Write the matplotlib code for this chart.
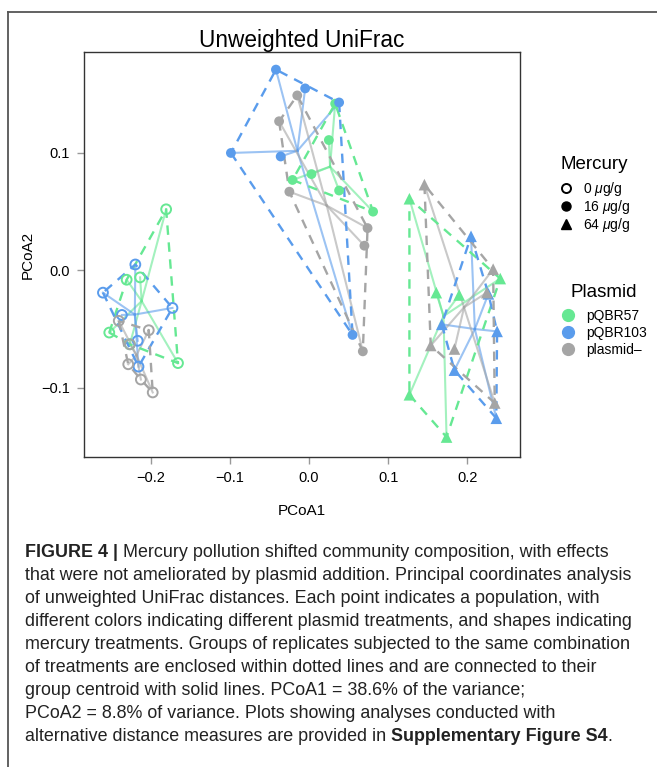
import matplotlib
matplotlib.use('Agg')
import matplotlib.pyplot as plt
from matplotlib.lines import Line2D
import numpy as np

plt.rcParams['font.family'] = ['Liberation Sans', 'DejaVu Sans']
plt.rcParams['mathtext.fontset'] = 'custom'
plt.rcParams['mathtext.it'] = 'Liberation Sans:italic'
plt.rcParams['mathtext.rm'] = 'Liberation Sans'

# PCoA coordinates, one list per plasmid x mercury group
plasmids = ['pQBR57', 'pQBR103', 'plasmid\u2013']
mercury = ['0 $\\mu$g/g', '16 $\\mu$g/g', '64 $\\mu$g/g']
colors = {'pQBR57': '#66E893', 'pQBR103': '#5A9CEC', 'plasmid\u2013': '#A5A5A5'}

hg0_pqbr57_x = [-0.181, -0.231, -0.214, -0.253, -0.227, -0.166]
hg0_pqbr57_y = [0.052, -0.008, -0.006, -0.053, -0.063, -0.079]
hg0_pqbr103_x = [-0.220, -0.261, -0.173, -0.237, -0.217, -0.216]
hg0_pqbr103_y = [0.005, -0.019, -0.032, -0.038, -0.060, -0.082]
hg0_minus_x = [-0.241, -0.203, -0.229, -0.213, -0.198, -0.227]
hg0_minus_y = [-0.043, -0.051, -0.080, -0.093, -0.104, -0.063]

hg16_pqbr57_x = [0.033, 0.025, 0.003, -0.021, 0.038, 0.081]
hg16_pqbr57_y = [0.142, 0.111, 0.082, 0.077, 0.068, 0.050]
hg16_pqbr103_x = [-0.042, -0.005, 0.038, -0.099, -0.036, 0.055]
hg16_pqbr103_y = [0.171, 0.155, 0.143, 0.100, 0.097, -0.055]
hg16_minus_x = [-0.015, -0.038, -0.025, 0.074, 0.070, 0.068]
hg16_minus_y = [0.149, 0.127, 0.067, 0.036, 0.021, -0.069]

hg64_pqbr57_x = [0.127, 0.161, 0.190, 0.242, 0.127, 0.174]
hg64_pqbr57_y = [0.061, -0.019, -0.021, -0.007, -0.106, -0.142]
hg64_pqbr103_x = [0.205, 0.227, 0.168, 0.238, 0.184, 0.237]
hg64_pqbr103_y = [0.029, -0.020, -0.046, -0.052, -0.085, -0.126]
hg64_minus_x = [0.146, 0.233, 0.154, 0.184, 0.235, 0.225]
hg64_minus_y = [0.073, 0.001, -0.064, -0.067, -0.113, -0.019]

groups = [
    ('pQBR57', 0, hg0_pqbr57_x, hg0_pqbr57_y),
    ('pQBR103', 0, hg0_pqbr103_x, hg0_pqbr103_y),
    ('plasmid\u2013', 0, hg0_minus_x, hg0_minus_y),
    ('pQBR57', 1, hg16_pqbr57_x, hg16_pqbr57_y),
    ('pQBR103', 1, hg16_pqbr103_x, hg16_pqbr103_y),
    ('plasmid\u2013', 1, hg16_minus_x, hg16_minus_y),
    ('pQBR57', 2, hg64_pqbr57_x, hg64_pqbr57_y),
    ('pQBR103', 2, hg64_pqbr103_x, hg64_pqbr103_y),
    ('plasmid\u2013', 2, hg64_minus_x, hg64_minus_y),
]


def hull(x, y):
    pts = sorted(zip(x, y))
    def cross(o, a, b):
        return (a[0]-o[0])*(b[1]-o[1]) - (a[1]-o[1])*(b[0]-o[0])
    lower, upper = [], []
    for p in pts:
        while len(lower) >= 2 and cross(lower[-2], lower[-1], p) <= 0:
            lower.pop()
        lower.append(p)
    for p in reversed(pts):
        while len(upper) >= 2 and cross(upper[-2], upper[-1], p) <= 0:
            upper.pop()
        upper.append(p)
    h = lower[:-1] + upper[:-1]
    h.append(h[0])
    return [p[0] for p in h], [p[1] for p in h]


fig = plt.figure(figsize=(6.57, 7.67), dpi=100)
ax = fig.add_axes([84/657, 1-457/767, (520-84)/657, (457-52)/767])

for plas, hg, xs, ys in groups:
    c = colors[plas]
    hx, hy = hull(xs, ys)
    ax.plot(hx, hy, color=c, lw=1.7, linestyle=(0, (4, 3.2)), zorder=2)
    cx, cy = np.mean(xs), np.mean(ys)
    for x, y in zip(xs, ys):
        ax.plot([cx, x], [cy, y], color=c, lw=1.5, alpha=0.6, zorder=1)
    if hg == 0:
        ax.scatter(xs, ys, s=50, facecolors='none', edgecolors=c, linewidths=1.4, zorder=3)
    elif hg == 1:
        ax.scatter(xs, ys, s=50, color=c, edgecolors='none', zorder=3)
    else:
        ax.scatter(xs, ys, s=70, marker='^', color=c, edgecolors='none', zorder=3)

ax.set_xlim(-0.285, 0.267)
ax.set_ylim(-0.159, 0.186)
ax.set_xticks([-0.2, -0.1, 0.0, 0.1, 0.2])
ax.set_yticks([-0.1, 0.0, 0.1])
ax.set_xticklabels(['\u22120.2', '\u22120.1', '0.0', '0.1', '0.2'])
ax.set_yticklabels(['\u22120.1', '0.0', '0.1'])
ax.tick_params(direction='out', length=5, width=1, color='#999999', labelsize=10.5, pad=5)
for s in ax.spines.values():
    s.set_color('#333333')
    s.set_linewidth(1)
ax.set_xlabel('PCoA1', fontsize=11, labelpad=14)
ax.set_ylabel('PCoA2', fontsize=11, labelpad=5)

fig.text(302/657, 1-40/767, 'Unweighted UniFrac', fontsize=16.3, ha='center', va='center')

# legends
hg_handles = [
    Line2D([], [], marker='o', ls='none', mfc='none', mec='black', mew=1.4, ms=6.5),
    Line2D([], [], marker='o', ls='none', color='black', ms=6.5),
    Line2D([], [], marker='^', ls='none', color='black', ms=7.5),
]
leg1 = fig.legend(hg_handles, mercury, loc='upper left', bbox_to_anchor=(559/657, 1-156/767),
                  frameon=False, title='Mercury', title_fontsize=13.5, fontsize=10,
                  handlelength=1, handletextpad=0.7, labelspacing=0.0, borderpad=0, borderaxespad=0)
leg1._legend_box.sep = 5
pl_handles = [Line2D([], [], marker='o', ls='none', color=colors[p], ms=8.5) for p in plasmids]
leg2 = fig.legend(pl_handles, plasmids, loc='upper left', bbox_to_anchor=(561/657, 1-284/767),
                  frameon=False, title='Plasmid', title_fontsize=13.5, fontsize=10,
                  handlelength=1, handletextpad=0.8, labelspacing=0.2, borderpad=0, borderaxespad=0)
leg2._legend_box.sep = 6

# outer frame
fig.add_artist(Line2D([8/657, 8/657], [0, 1-12/767], transform=fig.transFigure, color='#555555', lw=1.3))
fig.add_artist(Line2D([8/657, 1], [1-12/767, 1-12/767], transform=fig.transFigure, color='#555555', lw=1.3))

# caption
cap_lines = [
    'that were not ameliorated by plasmid addition. Principal coordinates analysis',
    'of unweighted UniFrac distances. Each point indicates a population, with',
    'different colors indicating different plasmid treatments, and shapes indicating',
    'mercury treatments. Groups of replicates subjected to the same combination',
    'of treatments are enclosed within dotted lines and are connected to their',
    'group centroid with solid lines. PCoA1 = 38.6% of the variance;',
    'PCoA2 = 8.8% of variance. Plots showing analyses conducted with',
]
cap_fs = 12.9
x0 = 25/657
base = 557
step = 23
t = fig.text(x0, 1-base/767, 'FIGURE 4 | ', fontsize=cap_fs, fontweight='bold', va='baseline', color='#222222')
plt.annotate('Mercury pollution shifted community composition, with effects', xy=(1, 0), xycoords=t,
             fontsize=cap_fs, va='bottom', ha='left', color='#222222', annotation_clip=False)
for i, line in enumerate(cap_lines):
    fig.text(x0, 1-(base+step*(i+1))/767, line, fontsize=cap_fs, va='baseline', color='#222222')
t2 = fig.text(x0, 1-(base+step*8)/767, 'alternative distance measures are provided in ', fontsize=cap_fs,
              va='baseline', color='#222222')
t3 = plt.annotate('Supplementary Figure S4', xy=(1, 0), xycoords=t2, fontsize=cap_fs, fontweight='bold',
                  va='bottom', ha='left', color='#222222', annotation_clip=False)
plt.annotate('.', xy=(1, 0), xycoords=t3, fontsize=cap_fs, va='bottom', ha='left', color='#222222',
             annotation_clip=False)

fig.savefig('out.png', dpi=100)
